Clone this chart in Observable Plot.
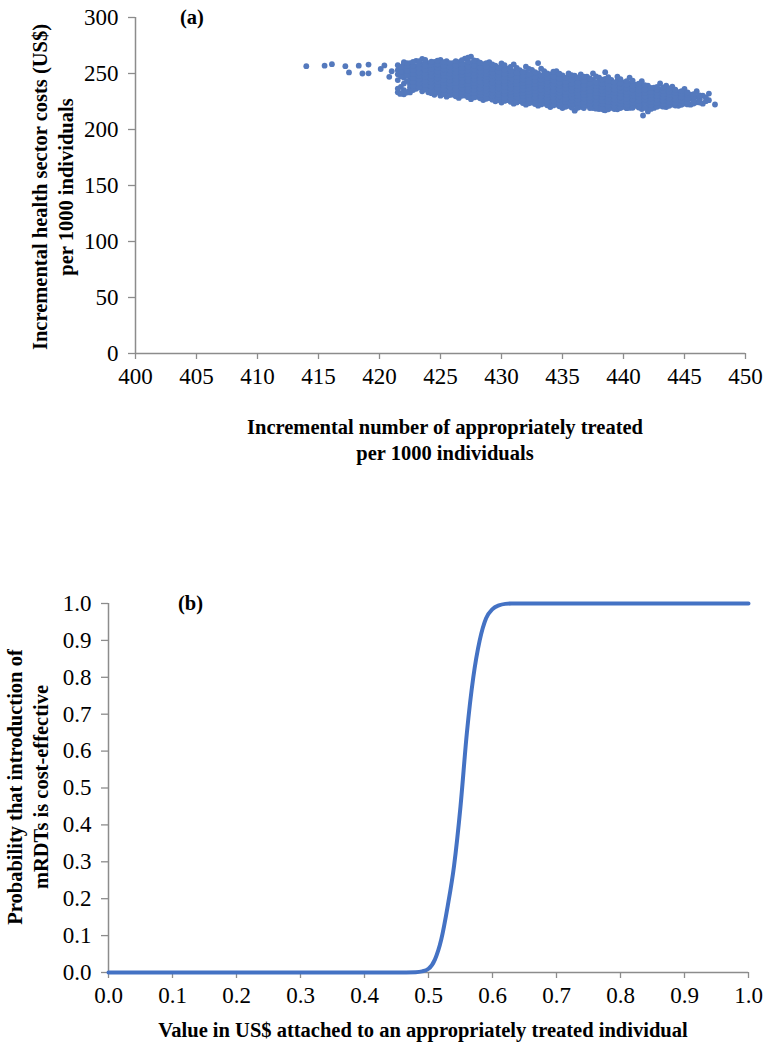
<!DOCTYPE html>
<html>
<head>
<meta charset="utf-8">
<script src="https://cdn.jsdelivr.net/npm/d3@7"></script>
<script src="https://cdn.jsdelivr.net/npm/@observablehq/plot@0.6"></script>
<style>
  html, body { margin: 0; padding: 0; background: #fff; }
  #wrap { position: relative; width: 767px; height: 1049px; overflow: hidden; font-family: "Liberation Serif", "Times New Roman", serif; }
  #wrap svg text { font-family: "Liberation Serif", "Times New Roman", serif !important; font-size: 23px !important; fill: #000; }
  .panel { position: absolute; left: 0; }
  .t { position: absolute; font-weight: bold; font-size: 20.5px; color: #000; white-space: nowrap; line-height: 26px; text-align: center; }
  .rot { transform-origin: center center; transform: translate(-50%, -50%) rotate(-90deg); }
  .hc { transform: translate(-50%, 0); }
</style>
</head>
<body>
<div id="wrap">
  <div id="pa" class="panel" style="top:0"></div>
  <div id="pb" class="panel" style="top:520px"></div>
  <div class="t" style="left:180px; top:4px;">(a)</div>
  <div class="t" style="left:178px; top:590px;">(b)</div>
  <div class="t rot" style="left:53px; top:187px;">Incremental health sector costs (US$)<br>per 1000 individuals</div>
  <div class="t hc" style="left:445px; top:414px;">Incremental number of appropriately treated<br>per 1000 individuals</div>
  <div class="t rot" style="left:28px; top:787px;">Probability that introduction of<br>mRDTs is cost-effective</div>
  <div class="t hc" style="left:423px; top:1017px;">Value in US$ attached to an appropriately treated individual</div>
</div>
<script>
// ---------- Panel (a): tick values ----------
const xTicksA = [400, 405, 410, 415, 420, 425, 430, 435, 440, 445, 450];
const yTicksA = [0, 50, 100, 150, 200, 250, 300];

// Sparse points on the left of the cloud: [incremental treated, incremental cost]
const outliers = [
  [414.0, 256.5], [415.5, 257.0], [416.1, 258.3], [417.2, 256.5], [417.5, 251.0],
  [418.3, 257.0], [418.6, 250.0], [419.1, 258.0], [419.1, 250.2], [420.1, 254.0],
  [420.4, 257.2], [420.8, 247.0], [421.0, 252.0], [421.7, 231.8], [422.4, 234.0],
  [441.6, 212.5], [436.0, 216.8], [438.4, 217.3]
];

// Dense cloud, read column by column: [x, [y values]]
const cloudCols = [
  [421.5, [233.2, 236.5, 244.1, 249.3, 253.0, 257.4]],
  [422.0, [231.4, 235.2, 241.0, 246.3, 250.1, 254.2, 258.5, 260.1]],
  [422.5, [233.1, 237.4, 240.2, 244.5, 248.0, 251.3, 255.1, 259.2]],
  [423.0, [236.3, 239.1, 243.4, 246.2, 249.5, 252.1, 256.3, 261.2]],
  [423.5, [234.1, 238.2, 241.3, 245.0, 248.4, 251.2, 254.5, 258.1, 263.0]],
  [424.0, [233.2, 236.1, 240.4, 243.2, 246.5, 249.1, 252.3, 255.4, 259.2]],
  [424.5, [231.0, 235.3, 238.2, 241.5, 244.1, 247.3, 250.2, 253.4, 256.1, 260.3]],
  [425.0, [230.2, 234.1, 237.3, 240.2, 243.4, 246.1, 249.3, 252.2, 255.1, 258.4, 262.1]],
  [425.5, [229.3, 233.2, 236.1, 239.4, 242.2, 245.3, 248.1, 251.4, 254.2, 257.3, 261.0]],
  [426.0, [231.1, 234.4, 237.2, 240.1, 243.3, 246.2, 249.4, 252.1, 255.3, 259.2]],
  [426.5, [228.2, 232.1, 235.3, 238.2, 241.4, 244.1, 247.3, 250.2, 253.1, 256.4, 260.2]],
  [427.0, [230.3, 233.1, 236.4, 239.2, 242.1, 245.3, 248.2, 251.1, 254.3, 258.1, 263.2]],
  [427.5, [227.1, 231.3, 234.2, 237.1, 240.3, 243.2, 246.1, 249.3, 252.2, 255.1, 259.3, 265.0]],
  [428.0, [229.2, 232.1, 235.3, 238.1, 241.2, 244.3, 247.1, 250.2, 253.3, 257.1, 261.2]],
  [428.5, [226.3, 230.1, 233.2, 236.3, 239.1, 242.2, 245.1, 248.3, 251.2, 254.1, 258.3]],
  [429.0, [228.1, 231.2, 234.3, 237.1, 240.2, 243.1, 246.3, 249.2, 252.1, 256.2, 260.1]],
  [429.5, [225.2, 229.3, 232.1, 235.2, 238.3, 241.1, 244.2, 247.1, 250.3, 253.2, 257.1]],
  [430.0, [224.1, 227.2, 230.3, 233.1, 236.2, 239.3, 242.1, 245.2, 248.1, 251.3, 255.2, 259.1]],
  [430.5, [226.2, 229.1, 232.3, 235.1, 238.2, 241.3, 244.1, 247.2, 250.1, 254.3]],
  [431.0, [223.1, 227.3, 230.2, 233.1, 236.3, 239.2, 242.1, 245.3, 248.2, 252.1, 258.2]],
  [431.5, [225.3, 228.1, 231.2, 234.3, 237.1, 240.2, 243.3, 246.1, 249.2, 253.1]],
  [432.0, [222.2, 226.1, 229.3, 232.2, 235.1, 238.3, 241.2, 244.1, 247.3, 251.2, 256.1]],
  [432.5, [224.1, 227.2, 230.3, 233.1, 236.2, 239.1, 242.3, 245.2, 249.1, 253.2]],
  [433.0, [221.3, 225.1, 228.2, 231.3, 234.1, 237.2, 240.3, 243.1, 246.2, 250.1, 259.3]],
  [433.5, [223.2, 226.3, 229.1, 232.2, 235.3, 238.1, 241.2, 244.3, 248.1, 252.2]],
  [434.0, [220.1, 224.2, 227.3, 230.1, 233.2, 236.3, 239.1, 242.2, 245.3, 249.1]],
  [434.5, [222.3, 225.1, 228.2, 231.3, 234.1, 237.2, 240.1, 243.3, 247.2, 252.1]],
  [435.0, [219.2, 223.1, 226.3, 229.2, 232.1, 235.3, 238.2, 241.1, 244.3, 248.2]],
  [435.5, [221.1, 224.3, 227.2, 230.1, 233.3, 236.2, 239.1, 242.3, 246.1, 250.2]],
  [436.0, [217.3, 222.1, 225.2, 228.3, 231.1, 234.2, 237.3, 240.1, 244.2, 248.1]],
  [436.5, [220.2, 223.3, 226.1, 229.2, 232.3, 235.1, 238.2, 241.3, 245.1, 249.2]],
  [437.0, [221.3, 224.1, 227.2, 230.3, 233.1, 236.2, 239.3, 243.1, 247.2]],
  [437.5, [219.1, 222.2, 225.3, 228.1, 231.2, 234.3, 237.1, 240.2, 244.3, 250.1]],
  [438.0, [218.2, 221.3, 224.1, 227.2, 230.3, 233.1, 236.2, 239.3, 242.1, 246.2]],
  [438.5, [217.1, 220.2, 223.3, 226.1, 229.2, 232.3, 235.1, 238.2, 241.3, 245.1, 251.2]],
  [439.0, [219.3, 222.1, 225.2, 228.3, 231.1, 234.2, 237.3, 240.1, 244.2]],
  [439.5, [218.1, 221.2, 224.3, 227.1, 230.2, 233.3, 236.1, 239.2, 243.3, 247.1]],
  [440.0, [220.2, 223.3, 226.1, 229.2, 232.3, 235.1, 238.2, 242.1]],
  [440.5, [219.3, 222.1, 225.2, 228.3, 231.1, 234.2, 237.3, 241.1, 246.2]],
  [441.0, [221.1, 224.2, 227.3, 230.1, 233.2, 236.3, 240.1]],
  [441.5, [218.2, 222.3, 225.1, 228.2, 231.3, 234.1, 238.2, 243.1]],
  [442.0, [216.1, 220.2, 223.3, 226.1, 229.2, 232.3, 235.1, 239.2]],
  [442.5, [219.3, 222.1, 225.2, 228.3, 231.1, 234.2, 237.3]],
  [443.0, [221.2, 224.3, 227.1, 230.2, 233.3, 236.1, 241.2]],
  [443.5, [220.1, 223.2, 226.3, 229.1, 232.2, 235.3, 239.1]],
  [444.0, [222.3, 225.1, 228.2, 231.3, 234.1, 238.2]],
  [444.5, [221.2, 224.3, 227.1, 230.2, 233.3]],
  [445.0, [223.1, 226.2, 229.3, 232.1, 236.2]],
  [445.5, [222.2, 227.3, 231.1]],
  [446.0, [224.3, 229.1, 234.2]],
  [446.5, [223.1, 230.2]],
  [447.0, [226.2, 232.1]],
  [447.5, [222.3]]
];

// Dense cloud, in-between columns read at quarter steps
const cloudColsMid = [
  [421.75, [232.4, 238.1, 247.6, 251.7, 255.8]],
  [422.25, [233.0, 243.2, 248.4, 252.6, 256.9, 259.3]],
  [422.75, [235.2, 238.8, 242.6, 246.1, 249.7, 253.4, 257.2, 260.4]],
  [423.25, [237.6, 241.2, 244.8, 247.9, 250.8, 254.6, 258.3, 261.0]],
  [423.75, [235.9, 239.7, 243.1, 246.8, 250.2, 253.3, 256.7, 260.1, 262.2]],
  [424.25, [232.4, 234.8, 238.6, 242.1, 245.2, 248.0, 251.1, 254.2, 257.6, 260.6]],
  [424.75, [232.9, 236.8, 239.7, 242.9, 245.7, 248.6, 251.8, 254.9, 258.2, 261.4]],
  [425.25, [231.6, 235.7, 238.9, 241.8, 244.6, 247.9, 250.7, 253.8, 256.9, 260.1]],
  [425.75, [230.8, 234.7, 237.8, 240.9, 243.7, 246.8, 249.9, 252.9, 255.9, 259.2]],
  [426.25, [229.6, 232.7, 235.9, 238.7, 241.8, 244.8, 247.8, 250.8, 253.9, 257.2, 261.1]],
  [426.75, [230.1, 233.8, 236.8, 239.9, 242.7, 245.8, 248.9, 251.8, 254.8, 258.3, 262.0]],
  [427.25, [228.9, 231.8, 234.9, 237.8, 240.9, 243.8, 246.9, 249.8, 252.8, 256.2, 260.7, 264.1]],
  [427.75, [228.6, 232.8, 235.7, 238.8, 241.7, 244.8, 247.7, 250.8, 253.8, 257.2, 261.8]],
  [428.25, [227.8, 230.7, 233.8, 236.7, 239.8, 242.7, 245.8, 248.7, 251.8, 255.3, 259.6]],
  [428.75, [227.4, 231.7, 234.8, 237.7, 240.6, 243.7, 246.8, 249.7, 252.7, 256.1, 259.2]],
  [429.25, [226.6, 229.8, 232.7, 235.8, 238.7, 241.7, 244.8, 247.7, 250.8, 254.2, 258.1]],
  [429.75, [226.3, 228.7, 231.3, 233.7, 236.8, 239.8, 242.7, 245.8, 248.7, 251.8, 255.4]],
  [430.25, [225.5, 228.6, 231.7, 234.7, 237.8, 240.7, 243.6, 246.7, 249.8, 253.1, 257.4]],
  [430.75, [224.6, 227.7, 230.8, 233.7, 236.7, 239.8, 242.8, 245.7, 248.8, 252.3, 256.0]],
  [431.25, [224.2, 228.8, 231.7, 234.8, 237.7, 240.8, 243.7, 246.8, 250.6, 255.1]],
  [431.75, [223.6, 226.7, 229.8, 232.8, 235.7, 238.8, 241.7, 244.7, 247.8, 251.4]],
  [432.25, [223.4, 227.6, 230.8, 233.7, 236.8, 239.7, 242.7, 245.8, 249.3, 254.0]],
  [432.75, [222.7, 225.8, 228.7, 231.8, 234.7, 237.7, 240.8, 243.8, 247.2, 251.1]],
  [433.25, [222.4, 226.7, 229.7, 232.7, 235.8, 238.7, 241.8, 244.7, 248.2, 254.3]],
  [433.75, [221.6, 224.7, 227.8, 230.7, 233.8, 236.7, 239.7, 242.8, 246.3, 250.2]],
  [434.25, [221.5, 225.8, 228.7, 231.8, 234.7, 237.8, 240.7, 243.7, 247.4, 251.6]],
  [434.75, [220.7, 223.7, 226.8, 229.7, 232.8, 235.7, 238.8, 241.8, 245.6, 249.8]],
  [435.25, [220.3, 224.8, 227.7, 230.8, 233.7, 236.8, 239.7, 242.7, 246.4]],
  [435.75, [219.6, 222.7, 225.8, 228.7, 231.7, 234.8, 237.7, 240.8, 244.3, 248.6]],
  [436.25, [219.4, 223.6, 226.7, 229.8, 232.7, 235.7, 238.8, 242.1, 246.3]],
  [436.75, [219.2, 221.8, 224.7, 227.8, 230.7, 233.8, 236.7, 239.8, 243.3, 247.1]],
  [437.25, [219.1, 222.7, 225.8, 228.7, 231.8, 234.7, 237.8, 241.2, 245.6]],
  [437.75, [218.6, 220.8, 223.7, 226.8, 229.7, 232.8, 235.7, 238.8, 242.2, 247.3]],
  [438.25, [218.3, 222.7, 225.7, 228.8, 231.7, 234.8, 237.7, 240.8, 244.6]],
  [438.75, [218.1, 221.6, 224.8, 227.7, 230.8, 233.7, 236.7, 239.8, 243.2, 246.8]],
  [439.25, [218.2, 220.7, 223.7, 226.8, 229.7, 232.8, 235.8, 238.7, 242.1]],
  [439.75, [219.1, 222.7, 225.8, 228.7, 231.8, 234.7, 237.7, 241.3, 245.0]],
  [440.25, [219.0, 221.7, 224.8, 227.7, 230.8, 233.7, 236.8, 240.1, 243.2]],
  [440.75, [219.4, 223.6, 226.7, 229.8, 232.7, 235.8, 239.1, 243.6]],
  [441.25, [219.6, 222.8, 225.7, 228.8, 231.7, 234.8, 238.3, 241.0]],
  [441.75, [219.3, 223.7, 226.8, 229.7, 232.8, 235.7, 239.6]],
  [442.25, [218.4, 221.8, 224.7, 227.8, 230.7, 233.8, 237.2]],
  [442.75, [220.3, 223.8, 226.7, 229.8, 232.7, 235.8, 238.1]],
  [443.25, [220.4, 222.7, 225.8, 228.7, 231.8, 234.7, 237.6]],
  [443.75, [221.2, 224.8, 227.7, 230.8, 233.7, 236.8]],
  [444.25, [221.4, 223.7, 226.8, 229.7, 232.8, 235.6]],
  [444.75, [222.1, 225.8, 228.7, 231.8, 234.2]],
  [445.25, [222.4, 224.7, 227.8, 230.7, 233.1]],
  [445.75, [223.2, 225.8, 228.9, 231.6]],
  [446.25, [224.1, 226.9, 230.4]],
  [446.75, [225.3, 228.6]]
];

// ---------- Panel (b): acceptability curve ----------
const ceacX = [0, 0.05, 0.1, 0.15, 0.2, 0.25, 0.3, 0.35, 0.4, 0.45, 0.48, 0.49, 0.50, 0.51, 0.52, 0.53, 0.54, 0.55, 0.56, 0.57, 0.58, 0.59, 0.60, 0.61, 0.62, 0.63, 0.65, 0.7, 0.75, 0.8, 0.85, 0.9, 0.95, 1.0];
const ceacY = [0, 0, 0, 0, 0, 0, 0, 0, 0, 0, 0.001, 0.003, 0.01, 0.035, 0.09, 0.18, 0.29, 0.45, 0.65, 0.80, 0.90, 0.96, 0.985, 0.995, 0.999, 1, 1, 1, 1, 1, 1, 1, 1, 1];
const xTicksB = [0, 0.1, 0.2, 0.3, 0.4, 0.5, 0.6, 0.7, 0.8, 0.9, 1.0];
const yTicksB = [0, 0.1, 0.2, 0.3, 0.4, 0.5, 0.6, 0.7, 0.8, 0.9, 1.0];

// ---------- build ----------
const toPts = cols => cols.flatMap(([x, ys]) => ys.map(y => ({x, y})));
const scatter = outliers.map(([x, y]) => ({x, y}))
  .concat(toPts(cloudCols), toPts(cloudColsMid));
const ceac = ceacX.map((x, i) => ({x, y: ceacY[i]}));

const axisGray = "#8c8c8c";
const font = "'Liberation Serif', 'Times New Roman', serif";

const chartA = Plot.plot({
  width: 767, height: 470,
  marginTop: 17, marginBottom: 117, marginLeft: 135, marginRight: 22,
  style: {fontFamily: font, fontSize: "23px", color: "#000", background: "transparent", overflow: "visible"},
  x: {domain: [400, 450], label: null},
  y: {domain: [0, 300], label: null},
  marks: [
    Plot.axisX({ticks: xTicksA, tickSize: 6, tickPadding: 8, stroke: axisGray, strokeWidth: 1.3, fill: "#000", fontSize: 23, label: null}),
    Plot.axisY({ticks: yTicksA, tickSize: 7, tickPadding: 10, stroke: axisGray, strokeWidth: 1.3, fill: "#000", fontSize: 23, label: null}),
    Plot.ruleY([0], {stroke: axisGray, strokeWidth: 1.5}),
    Plot.ruleX([400], {stroke: axisGray, strokeWidth: 1.5}),
    Plot.dot(scatter, {x: "x", y: "y", r: 2.9, fill: "#5479bd", stroke: "none"})
  ]
});
document.getElementById("pa").appendChild(chartA);

const chartB = Plot.plot({
  width: 767, height: 529,
  marginTop: 83, marginBottom: 77, marginLeft: 108, marginRight: 19,
  style: {fontFamily: font, fontSize: "23px", color: "#000", background: "transparent", overflow: "visible"},
  x: {domain: [0, 1], label: null},
  y: {domain: [0, 1], label: null},
  marks: [
    Plot.axisX({ticks: xTicksB, tickFormat: d3.format(".1f"), tickSize: 6, tickPadding: 8, stroke: axisGray, strokeWidth: 1.3, fill: "#000", fontSize: 23, label: null}),
    Plot.axisY({ticks: yTicksB, tickFormat: d3.format(".1f"), tickSize: 7, tickPadding: 10, stroke: axisGray, strokeWidth: 1.3, fill: "#000", fontSize: 23, label: null}),
    Plot.ruleY([0], {stroke: axisGray, strokeWidth: 1.5}),
    Plot.ruleX([0], {stroke: axisGray, strokeWidth: 1.5}),
    Plot.line(ceac, {x: "x", y: "y", stroke: "#4472c4", strokeWidth: 4, curve: "monotone-x"})
  ]
});
document.getElementById("pb").appendChild(chartB);
</script>
</body>
</html>
